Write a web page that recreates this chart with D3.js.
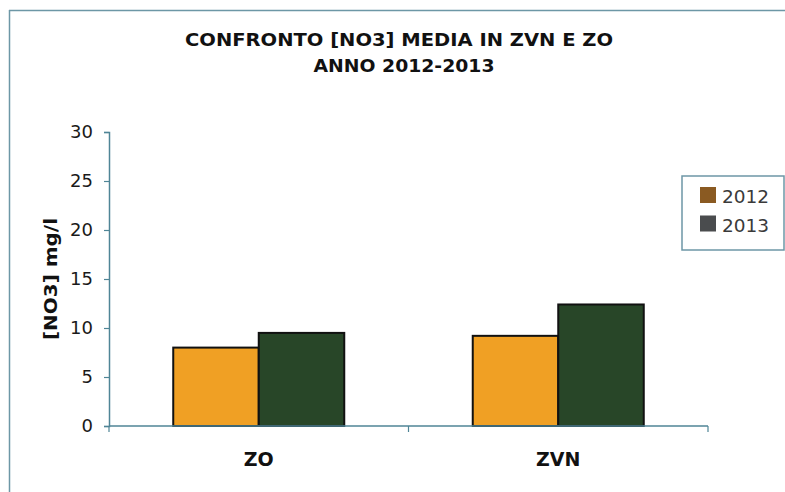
<!DOCTYPE html>
<html>
<head>
<meta charset="utf-8">
<script src="https://cdn.jsdelivr.net/npm/d3@7/dist/d3.min.js"></script>
<style>
  html, body { margin: 0; padding: 0; background: #fff; }
  svg { display: block; }
  text { font-family: "DejaVu Sans", Verdana, sans-serif; }
</style>
</head>
<body>
<svg id="chart" width="785" height="492"></svg>
<script>
const categories = ["ZO", "ZVN"];
const seriesNames = ["2012", "2013"];
const values2012 = [8.0, 9.2];
const values2013 = [9.5, 12.4];
const yTicks = [0, 5, 10, 15, 20, 25, 30];
const titleLines = ["CONFRONTO [NO3] MEDIA IN ZVN E ZO", "ANNO 2012-2013"];
const yTitle = "[NO3] mg/l";

const barColors = { "2012": "#f0a024", "2013": "#284628" };
const legendColors = { "2012": "#8a5a22", "2013": "#4a4c4e" };
const axisColor = "#4f8596";

const svg = d3.select("#chart");

// outer frame
svg.append("line").attr("x1", 9.5).attr("x2", 9.5).attr("y1", 10).attr("y2", 492)
  .attr("stroke", "#6d97a6").attr("stroke-width", 1.5);
svg.append("line").attr("x1", 9).attr("x2", 785).attr("y1", 10.5).attr("y2", 10.5)
  .attr("stroke", "#6d97a6").attr("stroke-width", 1.5);

// title
const tcx = [399, 404];
const tlen = [428, 181];
titleLines.forEach((t, i) => {
  svg.append("text")
    .attr("x", tcx[i]).attr("y", 45.5 + i * 26)
    .attr("text-anchor", "middle")
    .attr("font-size", 18.5).attr("font-weight", "bold").attr("fill", "#111")
    .attr("textLength", tlen[i]).attr("lengthAdjust", "spacingAndGlyphs")
    .text(t);
});

const x0 = 109, x1End = 708, yBase = 426, yTop = 132;
const y = d3.scaleLinear().domain([0, 30]).range([yBase, yTop]);
const xBand = d3.scaleBand().domain(categories).range([x0, x1End]).padding(0);
const groupPad = xBand.bandwidth() * 0.2145;
const xSub = d3.scaleBand().domain(seriesNames).range([groupPad, xBand.bandwidth() - groupPad]).padding(0);

const data = categories.map((c, i) => ({ cat: c, vals: [
  { s: "2012", v: values2012[i] }, { s: "2013", v: values2013[i] } ] }));

// bars
const g = svg.append("g");
data.forEach(d => {
  d.vals.forEach(e => {
    g.append("rect")
      .attr("x", xBand(d.cat) + xSub(e.s))
      .attr("y", y(e.v))
      .attr("width", xSub.bandwidth())
      .attr("height", yBase - y(e.v))
      .attr("fill", barColors[e.s])
      .attr("stroke", "#111").attr("stroke-width", 2);
  });
});

// y axis
const yAxis = d3.axisLeft(y).tickValues(yTicks).tickSize(5).tickPadding(11);
const ya = svg.append("g").attr("transform", `translate(${x0},0)`).call(yAxis);
ya.select(".domain").attr("stroke", axisColor).attr("stroke-width", 1.5);
ya.selectAll(".tick line").attr("stroke", axisColor).attr("stroke-width", 1.2);
ya.selectAll(".tick text").attr("font-size", 18).attr("fill", "#1a1a1a")
  .attr("font-family", "DejaVu Sans, sans-serif");

// x axis
const xa = svg.append("g").attr("transform", `translate(0,${yBase})`);
xa.append("line").attr("x1", x0).attr("x2", x1End).attr("y1", 0).attr("y2", 0)
  .attr("stroke", axisColor).attr("stroke-width", 1.5);
const xTickPos = [x0].concat(categories.map(c => xBand(c) + xBand.bandwidth()));
xa.selectAll("line.xt").data(xTickPos).enter().append("line")
  .attr("class", "xt")
  .attr("x1", d => d).attr("x2", d => d).attr("y1", 0).attr("y2", 6)
  .attr("stroke", axisColor).attr("stroke-width", 1.2);
xa.selectAll("text.xl").data(categories).enter().append("text")
  .attr("class", "xl")
  .attr("x", d => xBand(d) + xBand.bandwidth() / 2)
  .attr("y", 40)
  .attr("text-anchor", "middle")
  .attr("font-size", 19).attr("font-weight", "bold").attr("fill", "#111")
  .text(d => d);

// y title
svg.append("text")
  .attr("transform", "translate(57,279) rotate(-90)")
  .attr("text-anchor", "middle")
  .attr("font-size", 18).attr("font-weight", "bold").attr("fill", "#111")
  .attr("textLength", 122).attr("lengthAdjust", "spacingAndGlyphs")
  .text(yTitle);

// legend
const lg = svg.append("g");
lg.append("rect").attr("x", 682).attr("y", 176).attr("width", 102).attr("height", 74)
  .attr("fill", "#fff").attr("stroke", "#6d97a6").attr("stroke-width", 1.5);
seriesNames.forEach((s, i) => {
  lg.append("rect").attr("x", 700).attr("y", 187 + i * 28.5).attr("width", 16).attr("height", 16)
    .attr("fill", legendColors[s]);
  lg.append("text").attr("x", 722).attr("y", 203 + i * 28.5)
    .attr("font-size", 18.5).attr("fill", "#3a3a3a").text(s);
});
</script>
</body>
</html>
